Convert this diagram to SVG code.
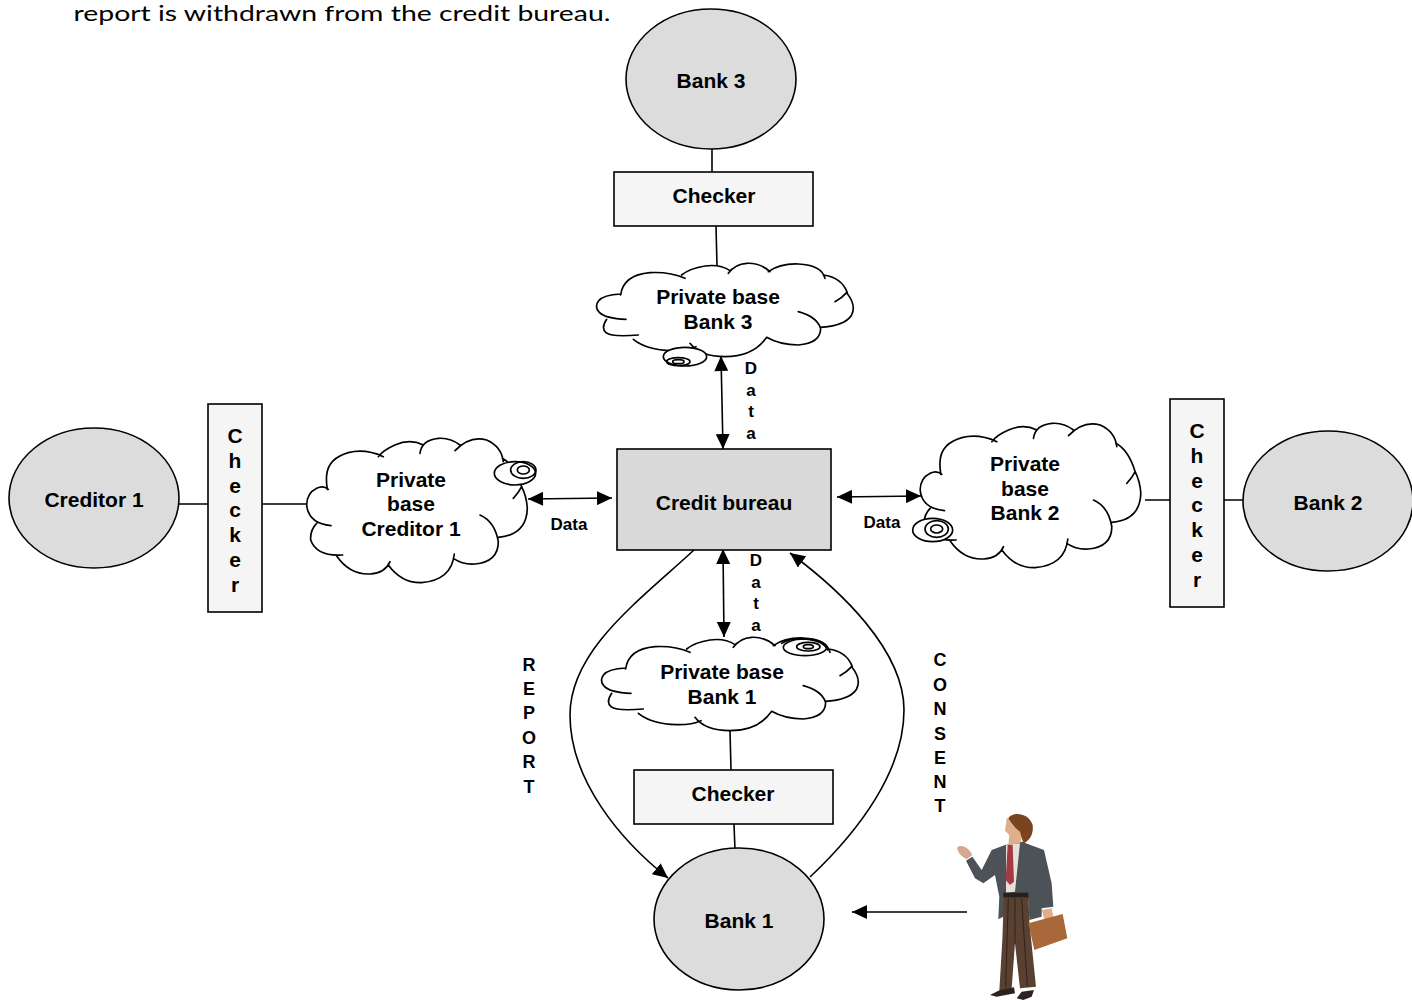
<svg xmlns="http://www.w3.org/2000/svg" xmlns:xlink="http://www.w3.org/1999/xlink" width="1412" height="1000" viewBox="0 0 1412 1000">
<style>
text{font-family:"Liberation Sans",Arial,sans-serif;font-weight:bold;fill:#000;text-anchor:middle}
.t{font-size:21px}.s{font-size:17px}
.lb{fill:#dcdcdc;stroke:#000;stroke-width:1.6}
.ck{fill:#f5f5f5;stroke:#000;stroke-width:1.6}
.c{fill:none;stroke:#000;stroke-width:1.6}
.a{fill:none;stroke:#000;stroke-width:1.6;marker-end:url(#ah)}
.d{fill:none;stroke:#000;stroke-width:1.6;marker-start:url(#ahs);marker-end:url(#ah)}
.cl{fill:none;stroke:#000;stroke-width:5;stroke-linecap:round}
</style>
<defs>
<marker id="ah" markerUnits="userSpaceOnUse" markerWidth="16" markerHeight="14" refX="15" refY="7" orient="auto"><path d="M0 0L15 7L0 14Z" fill="#000"/></marker>
<marker id="ahs" markerUnits="userSpaceOnUse" markerWidth="16" markerHeight="14" refX="0" refY="7" orient="auto"><path d="M15 0L0 7L15 14Z" fill="#000"/></marker>
<g id="wide">
<path class="cl" d="M92 132Q40 135 26 152Q12 170 28 187Q45 205 108 208M50 208Q32 235 48 248Q65 262 145 255M130 268Q170 300 245 302Q290 303 318 290M300 280Q330 320 405 320Q490 320 530 262M530 262Q570 285 625 285Q692 280 692 235Q680 200 625 185M690 232Q765 228 785 195Q800 165 770 128Q755 145 735 155M700 75Q755 82 772 128M705 85Q695 45 625 42Q570 40 535 65M540 65Q510 38 470 40Q435 42 415 70M420 62Q390 42 345 48Q300 55 275 75M285 85Q240 65 180 68Q100 75 92 135"/>
</g>
<g id="tall">
<path class="cl" d="M100 178Q85 165 65 175Q35 190 35 225Q40 280 108 287M65 280Q45 300 47 330Q65 380 143 375M125 378Q165 435 225 432Q270 430 285 395M280 405Q320 460 380 458Q470 450 478 372M475 385Q505 405 540 402Q610 395 610 335Q600 275 555 255M610 322Q695 315 697 235Q695 200 680 170Q670 190 655 205M680 170Q660 105 622 85M625 95Q620 50 575 30Q525 15 480 62M495 45Q465 22 430 25Q380 30 375 70M385 45Q345 25 300 45Q265 60 250 80M265 80Q210 55 160 68Q100 85 95 135Q93 155 97 178"/>
</g>
</defs>

<text x="342" y="21" style="font-family:Lato,'Liberation Sans',sans-serif;font-weight:normal;font-size:21px" textLength="537" lengthAdjust="spacingAndGlyphs">report is withdrawn from the credit bureau.</text>

<g id="connectors">
<path class="c" d="M712 149L712 172M716 226L717 266M730 731L731 770M734 824L735 850M178 504L208 504M262 504L307 504M1145 500L1170 500M1224 500L1245 500"/>
<path class="d" d="M721 356L723 449"/>
<path class="d" d="M528 499L612 498"/>
<path class="d" d="M837 497L921 496"/>
<path class="d" d="M723 549L724 637"/>
<path class="a" d="M694 550C640 600 570 650 570 715C570 780 620 840 668 878"/>
<path class="a" d="M810 877C860 830 904 770 904 710C904 650 840 590 790 553"/>
<path class="a" d="M967 912L852 912"/>
</g>

<g id="bank3"><ellipse class="lb" cx="711" cy="79" rx="85" ry="70"/><text class="t" x="711" y="88">Bank 3</text></g>
<g id="checker3"><rect class="ck" x="614" y="172" width="199" height="54"/><text class="t" x="714" y="203">Checker</text></g>
<g id="base3">
<use xlink:href="#wide" href="#wide" transform="translate(590 250) scale(.3333)"/>
<g transform="translate(590 250) scale(.3333)"><ellipse cx="285" cy="320" rx="65" ry="28" class="cl" style="fill:#fff"/><ellipse cx="265" cy="335" rx="35" ry="12" class="cl"/><ellipse cx="265" cy="335" rx="17" ry="6" class="cl"/></g>
<text class="t" x="718" y="304">Private base</text><text class="t" x="718" y="329">Bank 3</text>
</g>

<g id="creditor1"><ellipse class="lb" cx="94" cy="498" rx="85" ry="70"/><text class="t" x="94" y="507">Creditor 1</text></g>
<g id="checker-left"><rect class="ck" x="208" y="404" width="54" height="208"/>
<text class="t"><tspan x="235" y="443">C</tspan><tspan x="235" y="468">h</tspan><tspan x="235" y="493">e</tspan><tspan x="235" y="517">c</tspan><tspan x="235" y="542">k</tspan><tspan x="235" y="567">e</tspan><tspan x="235" y="592">r</tspan></text></g>
<g id="base-creditor">
<use xlink:href="#tall" href="#tall" transform="translate(295 430) scale(.3333)"/>
<g transform="translate(295 430) scale(.3333)"><ellipse cx="660" cy="130" rx="62" ry="35" class="cl" style="fill:#fff"/><ellipse cx="685" cy="120" rx="38" ry="25" class="cl"/><ellipse cx="685" cy="120" rx="18" ry="12" class="cl"/></g>
<text class="t" x="411" y="487">Private</text><text class="t" x="411" y="511">base</text><text class="t" x="411" y="536">Creditor 1</text>
</g>

<g id="credit-bureau"><rect x="617" y="449" width="214" height="101" fill="#d9d9d9" stroke="#000" stroke-width="1.6"/><text class="t" x="724" y="510">Credit bureau</text></g>

<g id="base2">
<use xlink:href="#tall" href="#tall" transform="translate(908.5 415) scale(.3333)"/>
<g transform="translate(905 415) scale(.3333)"><ellipse cx="83" cy="345" rx="60" ry="35" class="cl" style="fill:#fff"/><ellipse cx="95" cy="342" rx="35" ry="25" class="cl"/><ellipse cx="95" cy="342" rx="18" ry="12" class="cl"/></g>
<text class="t" x="1025" y="471">Private</text><text class="t" x="1025" y="496">base</text><text class="t" x="1025" y="520">Bank 2</text>
</g>
<g id="checker-right"><rect class="ck" x="1170" y="399" width="54" height="208"/>
<text class="t"><tspan x="1197" y="438">C</tspan><tspan x="1197" y="463">h</tspan><tspan x="1197" y="488">e</tspan><tspan x="1197" y="512">c</tspan><tspan x="1197" y="537">k</tspan><tspan x="1197" y="562">e</tspan><tspan x="1197" y="587">r</tspan></text></g>
<g id="bank2"><ellipse class="lb" cx="1328" cy="501" rx="85" ry="70"/><text class="t" x="1328" y="510">Bank 2</text></g>

<g id="base1">
<use xlink:href="#wide" href="#wide" transform="translate(595 624) scale(.3333)"/>
<g transform="translate(595 630) scale(.3333)"><ellipse cx="630" cy="52" rx="65" ry="25" class="cl" style="fill:#fff"/><ellipse cx="640" cy="50" rx="35" ry="13" class="cl"/><ellipse cx="640" cy="50" rx="15" ry="6" class="cl"/><path class="cl" d="M560 40C590 20 680 20 698 60"/></g>
<text class="t" x="722" y="679">Private base</text><text class="t" x="722" y="704">Bank 1</text>
</g>
<g id="checker1"><rect class="ck" x="634" y="770" width="199" height="54"/><text class="t" x="733" y="801">Checker</text></g>
<g id="bank1"><ellipse class="lb" cx="739" cy="919" rx="85" ry="71"/><text class="t" x="739" y="928">Bank 1</text></g>

<g id="labels">
<text class="s" x="569" y="530">Data</text>
<text class="s" x="882" y="528">Data</text>
<text class="s"><tspan x="751" y="374">D</tspan><tspan x="751" y="396">a</tspan><tspan x="751" y="417">t</tspan><tspan x="751" y="439">a</tspan></text>
<text class="s"><tspan x="756" y="566">D</tspan><tspan x="756" y="588">a</tspan><tspan x="756" y="609">t</tspan><tspan x="756" y="631">a</tspan></text>
<text class="s" style="font-size:18px"><tspan x="529" y="671">R</tspan><tspan x="529" y="695">E</tspan><tspan x="529" y="719">P</tspan><tspan x="529" y="744">O</tspan><tspan x="529" y="768">R</tspan><tspan x="529" y="793">T</tspan></text>
<text class="s" style="font-size:18px"><tspan x="940" y="666">C</tspan><tspan x="940" y="691">O</tspan><tspan x="940" y="715">N</tspan><tspan x="940" y="740">S</tspan><tspan x="940" y="764">E</tspan><tspan x="940" y="788">N</tspan><tspan x="940" y="812">T</tspan></text>
</g>

<g id="person" transform="translate(940 800) scale(.3333)">
<path fill="#4d5158" d="M195 135L155 150L125 210L97 170L78 182L105 235L130 250L165 225L178 290L175 358L200 345L200 285L240 285L265 300L268 360L305 350L305 325L340 320L335 250L312 150L245 125Z"/>
<path fill="#e8e0d8" d="M198 135L240 130L225 275L198 278Z"/>
<path fill="#a33a44" d="M203 135L218 135L222 245L210 255L197 240Z"/>
<path fill="#5a4030" d="M192 280L265 280L268 365L288 560L240 565L225 430L215 565L178 572L187 420Z"/>
<path fill="none" stroke="#2e231b" stroke-width="3" d="M205 295L197 560M225 295L225 430M245 295L262 560"/>
<path fill="#26201c" d="M190 278L265 278L265 292L190 292Z"/>
<path fill="#2a2320" d="M150 585L180 570L222 562L225 580L170 590ZM230 595L245 575L282 570L275 590L250 600Z"/>
<path fill="#e0ae8a" d="M200 55L250 60L250 100L240 130L205 135L208 105L195 92Z"/>
<path fill="#7a4420" d="M205 55C215 35 265 35 278 75C282 105 265 125 250 130L240 95C225 85 215 70 205 55Z"/>
<path fill="#d4a88c" d="M52 142C62 132 85 140 97 165L80 178C65 170 52 158 52 142Z"/>
<path fill="#e0ae8a" d="M305 330L335 325L342 360L315 365Z"/>
<path fill="#a9683a" d="M265 370L368 342L382 415L283 450Z"/>
</g>
</svg>
